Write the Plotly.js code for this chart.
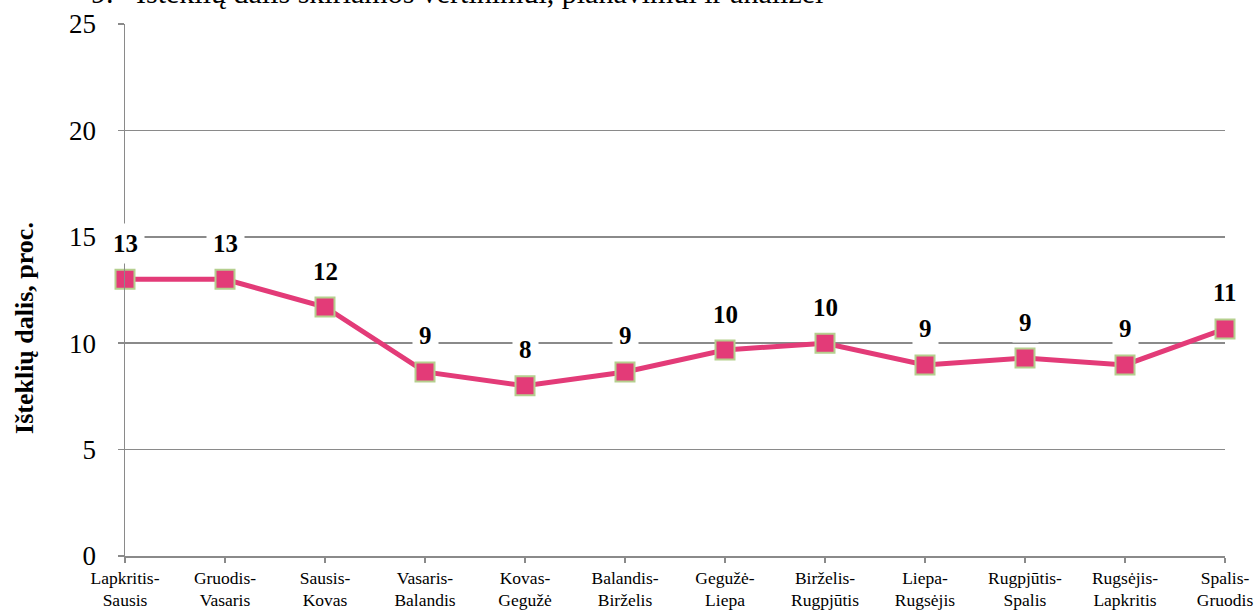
<!DOCTYPE html>
<html>
<head>
<meta charset="utf-8">
<script src="https://cdn.plot.ly/plotly-3.0.1.min.js"></script>
<style>html,body{margin:0;padding:0;background:#fff;}#chart{width:1258px;height:612px;}</style>
</head>
<body>
<div id="chart"></div>
<script>
const categories = [
  "Lapkritis-<br>Sausis", "Gruodis-<br>Vasaris", "Sausis-<br>Kovas", "Vasaris-<br>Balandis",
  "Kovas-<br>Gegužė", "Balandis-<br>Birželis", "Gegužė-<br>Liepa", "Birželis-<br>Rugpjūtis",
  "Liepa-<br>Rugsėjis", "Rugpjūtis-<br>Spalis", "Rugsėjis-<br>Lapkritis", "Spalis-<br>Gruodis"
];
const shares = [13.0, 13.0, 11.7, 8.65, 8.0, 8.65, 9.68, 10.0, 8.98, 9.3, 8.98, 10.67];
const yTicks = [0, 5, 10, 15, 20, 25];
const titleText = "9.   Išteklių dalis skiriamos vertinimui, planavimui ir analizei";
const yTitle = "<b>Išteklių dalis, proc.</b>";

const serif = "'Liberation Serif', 'Times New Roman', serif";

const idx = categories.map((c, i) => i);

const trace = {
  x: idx,
  y: shares,
  type: "scatter",
  mode: "lines+markers",
  cliponaxis: false,
  line: {color: "#E33B78", width: 5},
  marker: {symbol: "square", size: 19, color: "#E33B78", line: {color: "#B5CF8E", width: 2}},
  hoverinfo: "skip"
};

const annotations = shares.map((v, i) => ({
  x: i, y: v, xref: "x", yref: "y",
  text: "<b>" + Math.round(v) + "</b>",
  showarrow: false,
  yshift: 36,
  bgcolor: "#ffffff",
  borderpad: 6,
  font: {family: serif, size: 25, color: "#000"}
}));

annotations.push({
  xref: "paper", yref: "paper", x: -0.033, y: 1,
  xanchor: "left", yanchor: "bottom", yshift: 13,
  text: titleText, showarrow: false,
  font: {family: serif, size: 30, color: "#000"}
});

annotations.push({
  xref: "paper", yref: "paper", x: 0, y: 0.4286,
  xanchor: "center", yanchor: "middle", xshift: -100,
  textangle: -90,
  text: yTitle, showarrow: false,
  font: {family: serif, size: 26, color: "#000"}
});

const layout = {
  width: 1258, height: 612,
  margin: {l: 125, r: 33, t: 24, b: 56},
  paper_bgcolor: "#fff", plot_bgcolor: "#fff",
  showlegend: false,
  font: {family: serif, color: "#000"},
  xaxis: {
    range: [0, 11],
    tickmode: "array", tickvals: idx, ticktext: categories,
    ticks: "outside", ticklen: 5, tickcolor: "#8a8a8a", tickwidth: 1.5,
    ticklabelstandoff: 0,
    showline: true, linecolor: "#8a8a8a", linewidth: 1.5,
    showgrid: false, zeroline: false,
    tickfont: {family: serif, size: 17.5, color: "#000"},
    fixedrange: true
  },
  yaxis: {
    range: [0, 25],
    tickmode: "array", tickvals: yTicks,
    ticks: "outside", ticklen: 6, tickcolor: "#8a8a8a", tickwidth: 1.5,
    ticklabelstandoff: 16,
    showline: true, linecolor: "#8a8a8a", linewidth: 1.5,
    showgrid: true, gridcolor: "#8a8a8a", gridwidth: 1.5,
    zeroline: false,
    tickfont: {family: serif, size: 27, color: "#000"},
    fixedrange: true
  },
  annotations: annotations
};

Plotly.newPlot("chart", [trace], layout, {displayModeBar: false, staticPlot: true});
</script>
</body>
</html>
